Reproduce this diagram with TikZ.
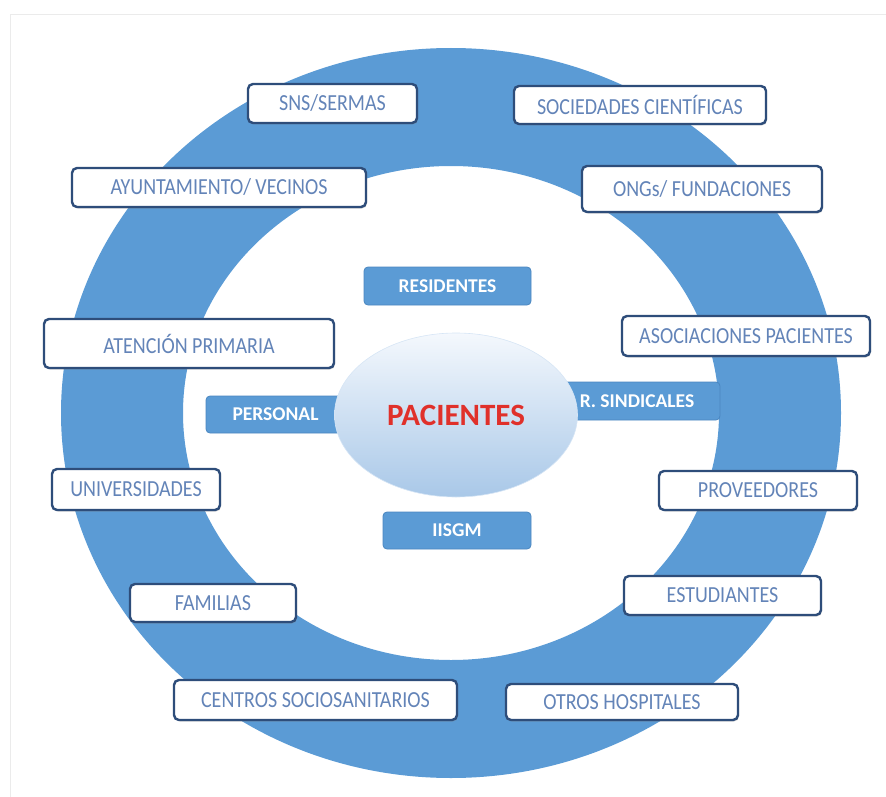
\documentclass[tikz,border=0pt]{standalone}
\usepackage{fontspec}
\setmainfont{Carlito}
\newfontfamily\boxfont{Carlito}[FakeStretch=0.87]
\usetikzlibrary{shadows,shapes.geometric}
\definecolor{ringblue}{HTML}{5B9BD5}
\definecolor{boxborder}{HTML}{2E4D7A}
\definecolor{boxtext}{HTML}{6384B8}
\definecolor{bluebord}{HTML}{4A86C0}
\definecolor{pacred}{HTML}{E0302A}
\definecolor{elltop}{HTML}{F4F8FD}
\definecolor{ellbot}{HTML}{A9C8E8}
\tikzset{
  wbox/.style={rectangle, rounded corners=5pt, draw=boxborder, line width=2.4pt, fill=white,
    text=boxtext, font=\boxfont\fontsize{23}{26}\selectfont, inner sep=0pt,
    drop shadow={opacity=0.35, shadow xshift=1pt, shadow yshift=-1.5pt}},
  bbox/.style={rectangle, rounded corners=4pt, draw=bluebord, line width=0.8pt, fill=ringblue,
    text=white, font=\fontsize{19.5}{22}\selectfont\bfseries, inner sep=0pt},
}
\begin{document}
\begin{tikzpicture}[x=1pt,y=-1pt]
\useasboundingbox (0,0) rectangle (886,797);
\draw[black!8, line width=0.8pt] (10,14) rectangle (900,810);
% ring
\fill[ringblue, even odd rule] (451,413) ellipse [x radius=390, y radius=365]
  (451,413) ellipse [x radius=268, y radius=247];
% outer boxes
\node[wbox, minimum width=169, minimum height=39] (sns) at (332.5,103.5) {SNS/SERMAS};
\node[wbox, minimum width=252, minimum height=38] (soc) at (640,105) {SOCIEDADES CIENTÍFICAS};
\node[wbox, minimum width=294, minimum height=39] (ayun) at (219,187.5) {AYUNTAMIENTO/ VECINOS};
\node[wbox, minimum width=240, minimum height=46] (ongs) at (702,189) {ONGs/ FUNDACIONES};
\node[wbox, minimum width=290, minimum height=49] (aten) at (189,343.5) {ATENCIÓN PRIMARIA};
\node[wbox, minimum width=248, minimum height=40] (asoc) at (746,336) {ASOCIACIONES PACIENTES};
\node[wbox, minimum width=168, minimum height=41] (univ) at (136,489.5) {UNIVERSIDADES};
\node[wbox, minimum width=198, minimum height=39] (prov) at (758,490.5) {PROVEEDORES};
\node[wbox, minimum width=166, minimum height=38] (fam) at (213,603) {FAMILIAS};
\node[wbox, minimum width=197, minimum height=39] (estud) at (722.5,595.5) {ESTUDIANTES};
\node[wbox, minimum width=283, minimum height=40] (centros) at (315.5,700) {CENTROS SOCIOSANITARIOS};
\node[wbox, minimum width=232, minimum height=36] (otros) at (622,702) {OTROS HOSPITALES};
% inner blue boxes
\node[bbox, minimum width=167, minimum height=38] (resid) at (447.5,286) {RESIDENTES};
\node[bbox, minimum width=148, minimum height=37] (iisgm) at (457,530.5) {IISGM};
\node[bbox, minimum width=139, minimum height=37] (personal) at (275.5,414.5) {PERSONAL};
\fill[ringblue] ([xshift=-8pt,yshift=-0.4pt]personal.north east) rectangle ([xshift=40pt,yshift=0.4pt]personal.south east);
\node[bbox, minimum width=160, minimum height=38] (rsind) at (640,401) {\hspace*{-6pt}R. SINDICALES};
\fill[ringblue] ([xshift=8pt,yshift=-0.4pt]rsind.north west) rectangle ([xshift=-40pt,yshift=0.4pt]rsind.south west);
% centre ellipse
\node[ellipse, minimum width=243, minimum height=164, inner sep=0pt,
  top color=elltop, bottom color=ellbot, draw=elltop!60!ellbot, line width=0.6pt,
  text=pacred, font=\fontsize{31}{34}\selectfont\bfseries] (pac) at (456,415) {PACIENTES};
\end{tikzpicture}
\end{document}
